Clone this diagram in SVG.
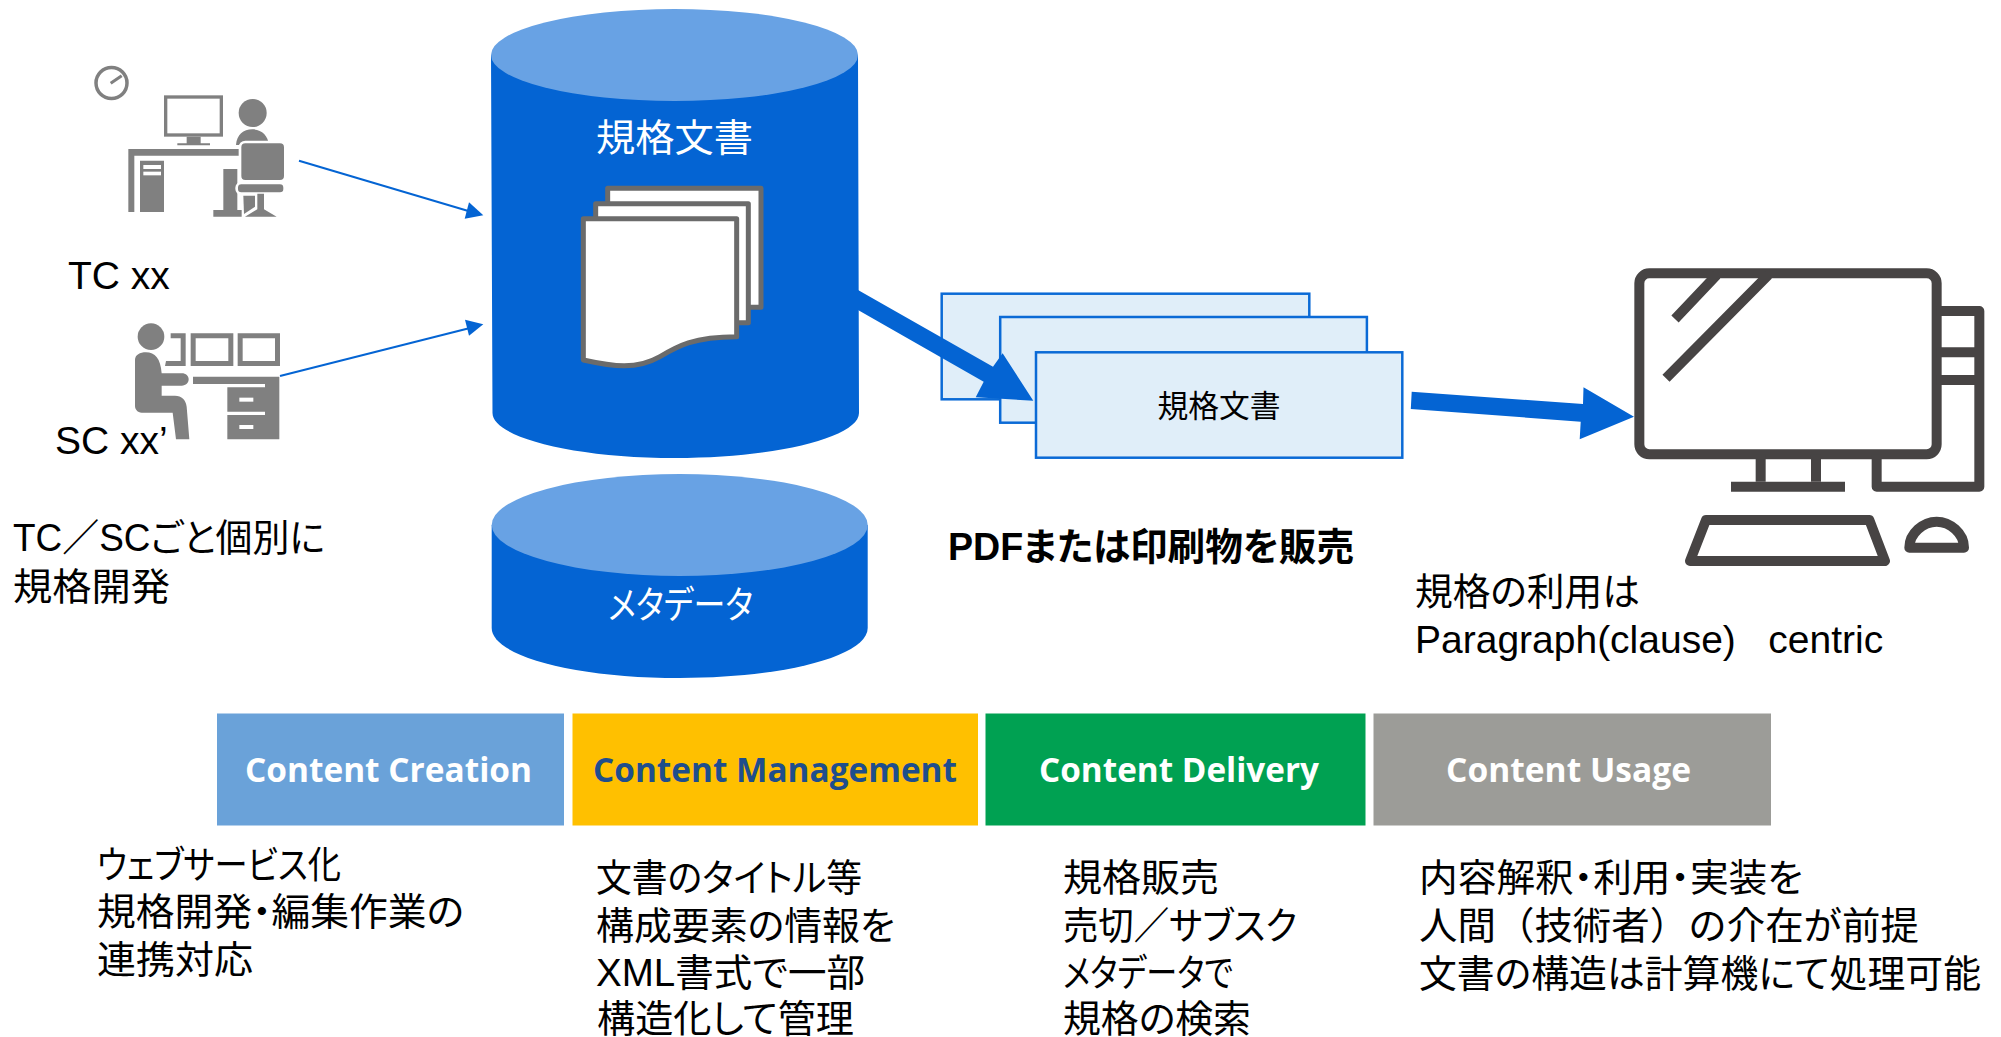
<svg xmlns="http://www.w3.org/2000/svg" width="2001" height="1037" viewBox="0 0 2001 1037">
<style>
text{font-family:"Liberation Sans","Noto Sans CJK JP",sans-serif;font-size:38px;fill:#000;font-feature-settings:"palt"}
.w{fill:#fff}
.c{text-anchor:middle}
.bar{font-family:"Open Sans",sans-serif;font-weight:700;font-size:34px;fill:#fff}
.cyl{fill:#0464d3}
.top{fill:#68a2e4}
.doc{fill:#e0eef9;stroke:#0b6ad6;stroke-width:2.5}
.pg{fill:#fff;stroke:#6b6b6b;stroke-width:15;stroke-linejoin:round}
.ic{fill:#808080}
.pc{fill:none;stroke:#474444;stroke-width:30;stroke-linejoin:round}
</style>
<rect width="2001" height="1037" fill="#fff"/>
<g id="clock"><circle cx="111.5" cy="83" r="15.5" fill="none" stroke="#808080" stroke-width="3.5"/><path d="M110.7 83.3L121.7 75.7" stroke="#808080" stroke-width="3" fill="none"/></g>
<g id="tc-person" transform="translate(40 30) scale(.33333)">
<rect x="377" y="201" width="167" height="114" fill="#fff" stroke="#808080" stroke-width="10"/>
<path class="ic" d="M440 320H482V340H510V346H412V340H440Z"/>
<circle class="ic" cx="638" cy="249" r="42"/>
<path class="ic" d="M588 345C590 315 610 298 637 298C665 298 683 315 687 345Z"/>
<path class="ic" d="M265 546V357H600V377H283V546Z"/>
<path class="ic" d="M300 392H372V546H300Z"/>
<rect x="310" y="405" width="53" height="12" fill="#fff"/><rect x="310" y="425" width="53" height="11" fill="#fff"/>
<path class="ic" d="M550 417H592V540H605V560H520V540H550Z"/>
<rect x="600" y="336" width="136" height="118" rx="16" fill="#808080" stroke="#fff" stroke-width="8"/>
<rect x="590" y="459" width="144" height="32" rx="14" fill="#808080" stroke="#fff" stroke-width="8"/>
<path class="ic" d="M610 497H645V530L612 552Z"/>
<path class="ic" d="M652 491H672V538L710 560H615L652 538Z"/>
</g>
<g id="sc-person" transform="translate(40 30) scale(.33333)">
<circle class="ic" cx="333" cy="920" r="40"/>
<path class="ic" d="M285 990C285 975 300 967 318 967C345 967 362 985 365 1030H425C438 1030 446 1038 446 1048C446 1058 438 1067 425 1067H365V1097H405C425 1097 438 1110 440 1130L448 1228H408L398 1148H305C293 1148 285 1138 285 1128Z"/>
<path class="ic" d="M392 910H437V1008H375L378 993H422V925H392Z"/>
<path class="ic" fill-rule="evenodd" d="M452 910H580V1008H452ZM467 925V993H565V925Z"/>
<path class="ic" fill-rule="evenodd" d="M593 910H720V1008H593ZM608 925V993H705V925Z"/>
<path class="ic" d="M459 1040H718V1228H562V1155H675V1145H562V1072H675V1062H459Z"/>
<rect x="598" y="1103" width="42" height="12" fill="#fff"/><rect x="598" y="1185" width="42" height="12" fill="#fff"/>
</g>
<g id="standards-db">
<path class="cyl" d="M491 55H858L859 413C859 437 777 458 675 458C573 458 492.500 437 492.500 413Z"/>
<ellipse class="top" cx="674.500" cy="55" rx="183.500" ry="46"/>
<text class="w" x="596" y="151" textLength="157" lengthAdjust="spacingAndGlyphs">規格文書</text>
<g transform="translate(480 10) scale(.33333)">
<path class="pg" d="M383 535H843V892H383Z"/>
<path class="pg" d="M347 581H805V938H347Z"/>
<path class="pg" d="M310 626H770V980C640 980 590 1010 540 1040C470 1080 400 1070 310 1050Z"/>
</g>
</g>
<g id="metadata-db">
<path class="cyl" d="M491.700 525H867.700V628C867.700 656 784 678 679.700 678C575 678 491.700 656 491.700 628Z"/>
<ellipse class="top" cx="679.700" cy="525" rx="188" ry="51"/>
<text class="w" x="608" y="618" textLength="145" lengthAdjust="spacingAndGlyphs">メタデータ</text>
</g>
<g id="doc-stack">
<rect class="doc" x="941.700" y="293.700" width="367.600" height="105.600"/>
<rect class="doc" x="1000.200" y="317" width="366.700" height="105.700"/>
</g>
<g id="connectors" fill="#0464d3">
<path d="M299 160.700L470 211.500" stroke="#0464d3" stroke-width="2" fill="none"/>
<path d="M469 202.300L483.300 215.300L464.700 218.700Z"/>
<path d="M280 376L470 328" stroke="#0464d3" stroke-width="2" fill="none"/>
<path d="M465 319.700L483.300 324.300L469 335.700Z"/>
<path d="M858 290L993 366.700L1002.600 353.300L1033.300 400.700L975.700 397.300L983.700 381.700L858 310Z"/>
<path d="M1411.700 391.700L1583 404L1583.500 387.300L1634 416.700L1579.700 439.300L1580.700 421.700L1410.800 409Z"/>
</g>
<g id="doc-front">
<rect class="doc" x="1036" y="352.300" width="366.300" height="105.400"/>
<text x="1157.500" y="417" style="font-size:31px" textLength="123" lengthAdjust="spacingAndGlyphs">規格文書</text>
</g>
<g id="computer" transform="translate(1600 250) scale(.33333)">
<rect class="pc" x="118" y="70" width="892" height="543" rx="30"/>
<path class="pc" d="M350 75L225 207M505 75L198 385"/>
<path class="pc" d="M1010 183H1138V710H830V613M1010 307H1138M1010 390H1138"/>
<path class="pc" d="M482 613V695M648 613V695"/>
<path class="pc" d="M393 710H735"/>
<path class="pc" d="M318 810H808L855 933H270Z"/>
<path class="pc" d="M928 893H1092C1092 850 1050 815 1010 815C970 815 928 850 928 893Z"/>
</g>
<g id="labels">
<text x="68" y="289" style="font-size:39px">TC xx</text>
<text x="55" y="454" style="font-size:39px">SC xx’</text>
<text x="13" y="551" textLength="312" lengthAdjust="spacingAndGlyphs">TC／SCごと個別に</text>
<text x="13" y="600" textLength="157" lengthAdjust="spacingAndGlyphs">規格開発</text>
<text x="948" y="560" style="font-weight:700" textLength="406" lengthAdjust="spacingAndGlyphs">PDFまたは印刷物を販売</text>
<text x="1415" y="605" textLength="225" lengthAdjust="spacingAndGlyphs">規格の利用は</text>
<text x="1415" y="653" style="font-size:39px" xml:space="preserve">Paragraph(clause)   centric</text>
</g>
<g id="stage-creation"><rect x="217" y="713.500" width="347" height="112" fill="#6aa2d9"/><text class="bar" x="245" y="782" textLength="287" lengthAdjust="spacingAndGlyphs">Content Creation</text></g>
<g id="stage-management"><rect x="572.500" y="713.500" width="405.500" height="112" fill="#ffc000"/><text class="bar" x="593" y="782" style="fill:#1f4e8c" textLength="364" lengthAdjust="spacingAndGlyphs">Content Management</text></g>
<g id="stage-delivery"><rect x="985.500" y="713.500" width="380" height="112" fill="#00a152"/><text class="bar" x="1039" y="782" textLength="280" lengthAdjust="spacingAndGlyphs">Content Delivery</text></g>
<g id="stage-usage"><rect x="1373.500" y="713.500" width="397.500" height="112" fill="#9c9c98"/><text class="bar" x="1446" y="782" textLength="245" lengthAdjust="spacingAndGlyphs">Content Usage</text></g>
<g id="notes">
<text x="97" y="878" textLength="244" lengthAdjust="spacingAndGlyphs">ウェブサービス化</text>
<text x="97" y="925" textLength="367" lengthAdjust="spacingAndGlyphs">規格開発・編集作業の</text>
<text x="97" y="973" textLength="156" lengthAdjust="spacingAndGlyphs">連携対応</text>
<text x="596" y="891" textLength="266" lengthAdjust="spacingAndGlyphs">文書のタイトル等</text>
<text x="596" y="939" textLength="299" lengthAdjust="spacingAndGlyphs">構成要素の情報を</text>
<text x="596" y="986" textLength="269" lengthAdjust="spacingAndGlyphs">XML書式で一部</text>
<text x="597" y="1032" textLength="257" lengthAdjust="spacingAndGlyphs">構造化して管理</text>
<text x="1063" y="891" textLength="156" lengthAdjust="spacingAndGlyphs">規格販売</text>
<text x="1063" y="939" textLength="234" lengthAdjust="spacingAndGlyphs">売切／サブスク</text>
<text x="1063" y="986" textLength="170" lengthAdjust="spacingAndGlyphs">メタデータで</text>
<text x="1063" y="1032" textLength="188" lengthAdjust="spacingAndGlyphs">規格の検索</text>
<text x="1419" y="891" textLength="384" lengthAdjust="spacingAndGlyphs">内容解釈・利用・実装を</text>
<text x="1419" y="939" style="font-feature-settings:normal" textLength="500" lengthAdjust="spacingAndGlyphs">人間（技術者）の介在が前提</text>
<text x="1419" y="987" textLength="562" lengthAdjust="spacingAndGlyphs">文書の構造は計算機にて処理可能</text>
</g>
</svg>
